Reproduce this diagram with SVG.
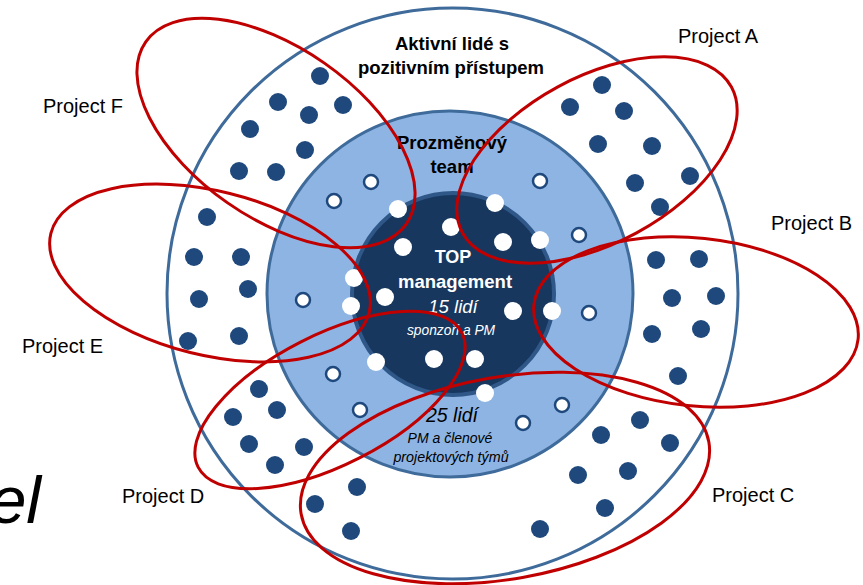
<svg xmlns="http://www.w3.org/2000/svg" width="863" height="585" viewBox="0 0 863 585">
<defs>
<style>
.ring{fill:none;stroke:#3f6b9b;stroke-width:3}
.proj{fill:none;stroke:#c00000;stroke-width:3}
.dd{fill:#1f497d}
.hd{fill:#ffffff;stroke:#1f497d;stroke-width:2.5}
.wd{fill:#ffffff}
.lbl{font-family:"Liberation Sans",Arial,sans-serif;font-size:20px;fill:#000}
.b{font-family:"Liberation Sans",Arial,sans-serif;font-weight:bold;text-anchor:middle}
.i{font-family:"Liberation Sans",Arial,sans-serif;font-style:italic;text-anchor:middle}
</style>
</defs>
<rect width="863" height="585" fill="#ffffff"/>
<g id="outer-ring">
<circle cx="452.5" cy="293.5" r="285.5" fill="#ffffff" stroke="#3f6b9b" stroke-width="3"/>
</g>
<g id="change-team-ring">
<circle cx="450" cy="294" r="183" fill="#8eb4e3" stroke="#3f6b9b" stroke-width="3"/>
</g>
<g id="top-management">
<circle cx="453" cy="294" r="101" fill="#17375e" stroke="#2f5787" stroke-width="4"/>
</g>
<g id="outer-dots">
<circle class="dd" cx="320" cy="76" r="9"/><circle class="dd" cx="278" cy="102" r="9"/><circle class="dd" cx="343" cy="105" r="9"/><circle class="dd" cx="309" cy="115" r="9"/><circle class="dd" cx="250" cy="129" r="9"/><circle class="dd" cx="305" cy="150" r="9"/><circle class="dd" cx="239" cy="171" r="9"/><circle class="dd" cx="276" cy="172" r="9"/><circle class="dd" cx="207" cy="217" r="9"/><circle class="dd" cx="194" cy="257" r="9"/><circle class="dd" cx="241" cy="257" r="9"/><circle class="dd" cx="248" cy="289" r="9"/><circle class="dd" cx="199" cy="299" r="9"/><circle class="dd" cx="188" cy="341" r="9"/><circle class="dd" cx="239" cy="336" r="9"/><circle class="dd" cx="259" cy="389" r="9"/><circle class="dd" cx="277" cy="410" r="9"/><circle class="dd" cx="233" cy="417" r="9"/><circle class="dd" cx="249" cy="444" r="9"/><circle class="dd" cx="304" cy="447" r="9"/><circle class="dd" cx="275" cy="465" r="9"/><circle class="dd" cx="357" cy="487" r="9"/><circle class="dd" cx="315" cy="504" r="9"/><circle class="dd" cx="351" cy="531" r="9"/>
<circle class="dd" cx="602" cy="85" r="9"/><circle class="dd" cx="570" cy="107" r="9"/><circle class="dd" cx="624" cy="111" r="9"/><circle class="dd" cx="598" cy="144" r="9"/><circle class="dd" cx="652" cy="146" r="9"/><circle class="dd" cx="635" cy="183" r="9"/><circle class="dd" cx="690" cy="176" r="9"/><circle class="dd" cx="660" cy="207" r="9"/><circle class="dd" cx="656" cy="260" r="9"/><circle class="dd" cx="699" cy="259" r="9"/><circle class="dd" cx="672" cy="298" r="9"/><circle class="dd" cx="716" cy="296" r="9"/><circle class="dd" cx="652" cy="334" r="9"/><circle class="dd" cx="701" cy="329" r="9"/><circle class="dd" cx="678" cy="376" r="9"/><circle class="dd" cx="640" cy="420" r="9"/><circle class="dd" cx="601" cy="435" r="9"/><circle class="dd" cx="670" cy="443" r="9"/><circle class="dd" cx="628" cy="471" r="9"/><circle class="dd" cx="578" cy="475" r="9"/><circle class="dd" cx="605" cy="508" r="9"/><circle class="dd" cx="540" cy="529" r="9"/>
</g>
<g id="team-dots">
<circle class="hd" cx="371" cy="182" r="7"/><circle class="hd" cx="334" cy="201" r="7"/><circle class="hd" cx="303" cy="300" r="7"/><circle class="hd" cx="540" cy="181" r="7"/><circle class="hd" cx="579" cy="235" r="7"/><circle class="hd" cx="589" cy="313" r="7"/><circle class="hd" cx="333" cy="374" r="7"/><circle class="hd" cx="360" cy="410" r="7"/><circle class="hd" cx="562" cy="405" r="7"/><circle class="hd" cx="523" cy="423" r="7"/>
</g>
<g id="top-dots">
<circle class="wd" cx="398" cy="209" r="9"/><circle class="wd" cx="451" cy="227" r="9"/><circle class="wd" cx="495" cy="203" r="9"/><circle class="wd" cx="403" cy="247" r="9"/><circle class="wd" cx="503" cy="242" r="9"/><circle class="wd" cx="540" cy="240" r="9"/><circle class="wd" cx="354" cy="278" r="9"/><circle class="wd" cx="385" cy="297" r="9"/><circle class="wd" cx="351" cy="306" r="9"/><circle class="wd" cx="513" cy="311" r="9"/><circle class="wd" cx="552" cy="311" r="9"/><circle class="wd" cx="376" cy="362" r="9"/><circle class="wd" cx="434" cy="359" r="9"/><circle class="wd" cx="475" cy="359" r="9"/><circle class="wd" cx="485" cy="393" r="9"/>
</g>
<g id="ring-texts">
<text class="b" x="452" y="50" font-size="18.5" fill="#000">Aktivní lidé s</text>
<text class="b" x="451" y="74" font-size="18.5" fill="#000">pozitivním přístupem</text>
<text class="b" x="452" y="149" font-size="18.5" fill="#000">Prozměnový</text>
<text class="b" x="452" y="173" font-size="18.5" fill="#000">team</text>
<text class="b" x="453" y="263" font-size="18" fill="#ffffff">TOP</text>
<text class="b" x="455" y="288" font-size="18.5" fill="#ffffff">management</text>
<text class="i" x="453" y="313" font-size="18.5" fill="#ffffff">15 lidí</text>
<text class="i" x="451" y="335" font-size="13.8" fill="#ffffff">sponzoři a PM</text>
<text class="i" x="452" y="422" font-size="19.5" fill="#000">25 lidí</text>
<text class="i" x="450" y="443" font-size="14" fill="#000">PM a členové</text>
<text class="i" x="451" y="462" font-size="14.3" fill="#000">projektových týmů</text>
</g>
<g id="projects">
<ellipse class="proj" id="project-f" cx="276" cy="133" rx="159" ry="85" transform="rotate(35 276 133)"/>
<ellipse class="proj" id="project-a" cx="597" cy="160" rx="153" ry="83" transform="rotate(-28.5 597 160)"/>
<ellipse class="proj" id="project-b" cx="696" cy="322" rx="163" ry="84" transform="rotate(6 696 322)"/>
<ellipse class="proj" id="project-e" cx="210" cy="273" rx="164" ry="82" transform="rotate(14 210 273)"/>
<ellipse class="proj" id="project-d" cx="330" cy="400" rx="148" ry="65" transform="rotate(-27 330 400)"/>
<ellipse class="proj" id="project-c" cx="505" cy="478" rx="207" ry="101" transform="rotate(-10 505 478)"/>
</g>
<g id="project-labels">
<text class="lbl" x="43" y="113">Project F</text>
<text class="lbl" x="678" y="43">Project A</text>
<text class="lbl" x="771" y="230">Project B</text>
<text class="lbl" x="22" y="353">Project E</text>
<text class="lbl" x="122" y="503">Project D</text>
<text class="lbl" x="712" y="502">Project C</text>
</g>
<g id="title-fragment">
<text x="41" y="523" font-family="Liberation Sans, Arial, sans-serif" font-style="italic" font-size="66" text-anchor="end" fill="#000">el</text>
</g>
</svg>
